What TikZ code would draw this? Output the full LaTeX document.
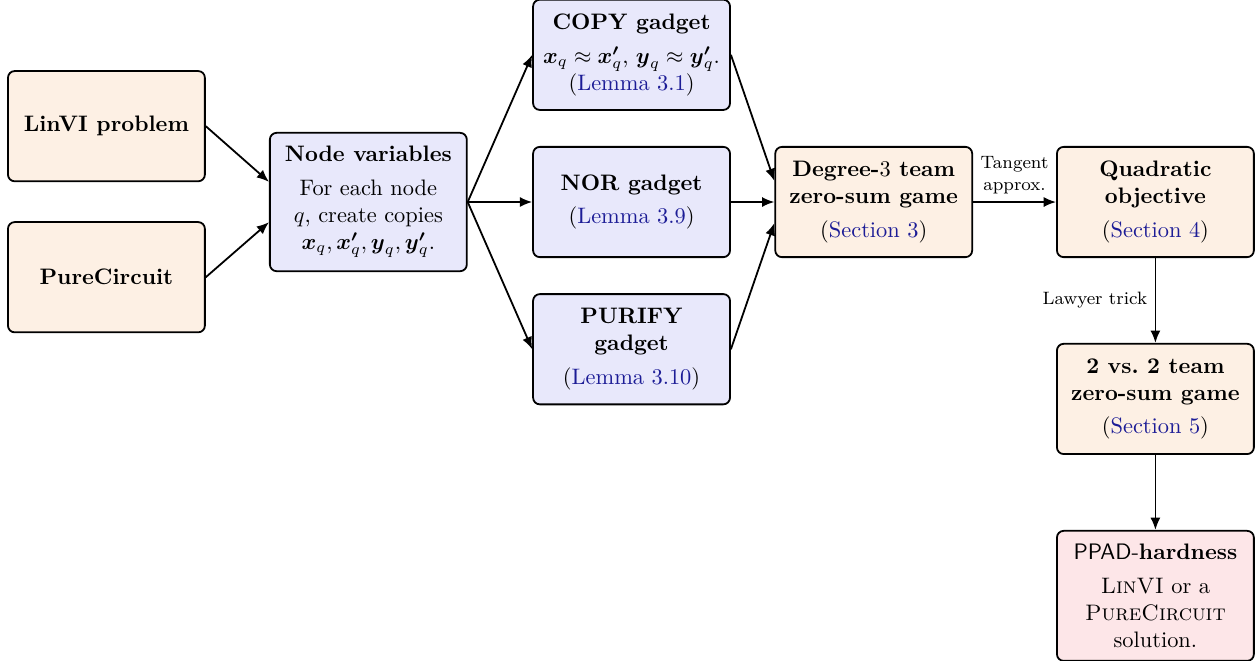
\documentclass[tikz,border=0pt]{standalone}
\usepackage{amsmath}
\usepackage{amssymb}
\usepackage{xcolor}
\usetikzlibrary{positioning, arrows.meta}
\definecolor{probfill}{HTML}{FDF0E4}
\definecolor{gadgetfill}{HTML}{E8E8FB}
\definecolor{hardfill}{HTML}{FDE6E8}
\definecolor{linkblue}{HTML}{1C1C96}
\tikzset{box/.style={draw,thick,rounded corners=3pt,align=center,minimum width=3.09cm,minimum height=1.73cm,inner xsep=4pt,inner ysep=6pt}}
\tikzset{prob/.style={box,fill=probfill}}
\tikzset{gadget/.style={box,fill=gadgetfill}}
\tikzset{hard/.style={box,fill=hardfill}}
\tikzset{link/.style={thick,-{Latex[length=5.5pt,width=4.5pt]}}}

\begin{document}
\begin{tikzpicture}
    \useasboundingbox (0,0) rectangle (19.74,-10.37);

    % inputs
    \node [prob] (linvi) at (1.67,-1.98) {\textbf{LinVI problem}};
    \node [prob] (pure) at (1.67,-4.35) {\textbf{PureCircuit}};

    % copies of the variables
    \node [gadget] (vars) at (5.78,-3.17) {\textbf{Node variables}\\[3pt]
        For each node\\ $q$, create copies\\
        $\boldsymbol{x}_q,\boldsymbol{x}^{\boldsymbol{\prime}}_q,\boldsymbol{y}_q,\boldsymbol{y}^{\boldsymbol{\prime}}_q$.};

    % gadgets
    \node [gadget] (copy) at (9.91,-0.86) {\textbf{COPY gadget}\\[3pt]
        $\boldsymbol{x}_q\approx\boldsymbol{x}^{\boldsymbol{\prime}}_q$, $\boldsymbol{y}_q\approx\boldsymbol{y}^{\boldsymbol{\prime}}_q$.\\
        (\textcolor{linkblue}{Lemma 3.1})};
    \node [gadget] (nor) at (9.91,-3.17) {\textbf{NOR gadget}\\[3pt]
        (\textcolor{linkblue}{Lemma 3.9})};
    \node [gadget] (purify) at (9.91,-5.48) {\textbf{PURIFY}\\ \textbf{gadget}\\[3pt]
        (\textcolor{linkblue}{Lemma 3.10})};

    % games
    \node [prob] (deg) at (13.71,-3.17) {\textbf{Degree-$3$ team}\\ \textbf{zero-sum game}\\[3pt]
        (\textcolor{linkblue}{Section 3})};
    \node [prob] (quad) at (18.13,-3.17) {\textbf{Quadratic}\\ \textbf{objective}\\[3pt]
        (\textcolor{linkblue}{Section 4})};
    \node [prob] (twovs) at (18.13,-6.26) {\textbf{2 vs.\ 2 team}\\ \textbf{zero-sum game}\\[3pt]
        (\textcolor{linkblue}{Section 5})};

    % result
    \node [hard] (ppad) at (18.13,-9.35) {\textsf{PPAD}-\textbf{hardness}\\[3pt]
        \textsc{LinVI} or a\\ \textsc{PureCircuit}\\ solution.};

    % arrows
    \draw [link] (linvi.east) -- ([yshift=9pt]vars.west);
    \draw [link] (pure.east) -- ([yshift=-9pt]vars.west);

    \draw [link] (vars.east) -- (copy.west);
    \draw [link] (vars.east) -- (nor.west);
    \draw [link] (vars.east) -- (purify.west);

    \draw [link] (copy.east) -- ([yshift=9.4pt]deg.west);
    \draw [link] (nor.east) -- (deg.west);
    \draw [link] (purify.east) -- ([yshift=-9.4pt]deg.west);

    \draw [link] (deg.east) -- (quad.west)
        node [midway,above,font=\footnotesize,align=center] (tangent) {Tangent\\ approx.};
    \draw [link] (quad.south) -- (twovs.north)
        node [midway,left,font=\footnotesize] (lawyer) {Lawyer trick};
    \draw [link] (twovs.south) -- (ppad.north);
\end{tikzpicture}
\end{document}
